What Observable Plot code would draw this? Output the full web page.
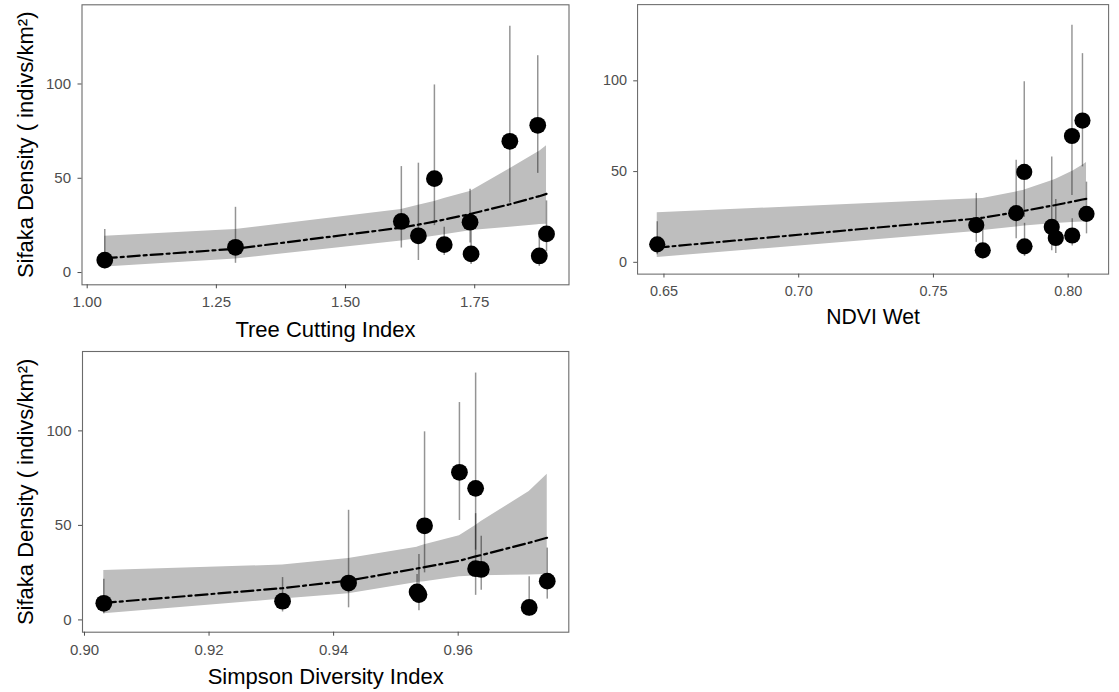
<!DOCTYPE html>
<html>
<head>
<meta charset="utf-8">
<script src="https://cdn.jsdelivr.net/npm/d3@7"></script>
<script src="https://cdn.jsdelivr.net/npm/@observablehq/plot@0.6"></script>
<style>
  html, body { margin: 0; padding: 0; background: #ffffff; }
  #fig { position: relative; width: 1119px; height: 692px; overflow: hidden; background: #ffffff; }
  #fig > div { position: absolute; }
  #fig svg { overflow: visible; }
</style>
</head>
<body>
<div id="fig">
  <div id="p1" style="left:0px; top:0px;"></div>
  <div id="p2" style="left:580px; top:0px;"></div>
  <div id="p3" style="left:0px; top:345px;"></div>
</div>
<script>
// Survey sites: sifaka density estimate with 95% interval
const density = [6.6, 8.8, 9.9, 13.4, 14.8, 19.5, 20.5, 26.7, 27.1, 49.8, 69.6, 78.1];
const densityLower = [2.0, 3.2, 4.2, 4.9, 9.0, 6.4, 11.0, 15.7, 13.0, 24.9, 36.9, 52.6];
const densityUpper = [22.8, 21.5, 22.4, 34.6, 24.0, 58.0, 38.0, 44.2, 56.2, 99.5, 130.6, 115.0];

// Habitat covariates per site
const treeCutting = [1.034, 1.875, 1.743, 1.287, 1.691, 1.641, 1.889, 1.741, 1.608, 1.672, 1.818, 1.872];
const ndviWet = [0.7683, 0.7838, 0.6475, 0.7954, 0.8015, 0.7939, 0.7659, 0.8068, 0.7807, 0.7837, 0.8014, 0.8053];
const simpson = [0.9714, 0.9031, 0.9318, 0.9537, 0.9534, 0.9424, 0.9743, 0.9637, 0.9628, 0.9546, 0.9628, 0.9602];

// Model predictions at each site (fit and 95% band), one set per covariate
const treeFit = [7.6, 40.5, 31.2, 12.6, 28.1, 25.4, 41.7, 31.0, 23.8, 27.0, 36.2, 40.3];
const treeLo  = [2.9, 25.5, 22.3, 7.2, 20.1, 18.1, 25.6, 22.2, 16.7, 19.3, 24.0, 25.4];
const treeHi  = [19.3, 64.2, 43.3, 22.8, 39.3, 35.7, 67.3, 43.0, 33.5, 37.7, 55.0, 63.8];

const ndviFit = [24.6, 28.4, 8.1, 31.6, 33.4, 31.2, 24.1, 35.0, 27.6, 28.4, 33.4, 34.6];
const ndviLo  = [17.5, 20.0, 2.7, 21.4, 21.9, 21.2, 17.0, 22.3, 19.5, 20.0, 21.9, 22.2];
const ndviHi  = [35.2, 39.8, 27.3, 45.8, 50.1, 45.0, 35.0, 55.0, 38.8, 39.7, 50.0, 53.5];

const simpFit = [40.8, 9.0, 16.8, 27.4, 27.2, 20.8, 43.5, 34.3, 33.6, 27.9, 33.6, 31.3];
const simpLo  = [23.8, 3.2, 11.0, 19.9, 19.8, 13.8, 24.0, 23.3, 23.2, 20.2, 23.2, 22.8];
const simpHi  = [68.0, 26.2, 29.0, 38.8, 38.5, 32.5, 77.0, 52.0, 50.0, 39.8, 50.0, 44.5];

// Axis ticks
const yTicks = [0, 50, 100];
const treeTicks = [1.00, 1.25, 1.50, 1.75];
const ndviTicks = [0.65, 0.70, 0.75, 0.80];
const simpTicks = [0.90, 0.92, 0.94, 0.96];

const yTitle = "Sifaka Density ( indivs/km²)";
const FONT = "'Liberation Sans', Arial, Helvetica, sans-serif";

function panel({xs, fit, lo, hi, domain, ticks, title, yLabel, width, height, margin}) {
  const sites = density.map((d, i) => ({
    x: xs[i], y: d, lower: densityLower[i], upper: densityUpper[i]
  }));
  const curve = xs.map((x, i) => ({x, fit: fit[i], lo: lo[i], hi: hi[i]}))
    .sort((a, b) => a.x - b.x);

  const marks = [
    Plot.areaY(curve, {x: "x", y1: "lo", y2: "hi", fill: "#bebebe"}),
    Plot.ruleX(sites, {x: "x", y1: "lower", y2: "upper", stroke: "#000", strokeOpacity: 0.42, strokeWidth: 1.5}),
    Plot.lineY(curve, {x: "x", y: "fit", stroke: "#000", strokeWidth: 2.2, strokeDasharray: "12,4,3,4"}),
    Plot.dot(sites, {x: "x", y: "y", r: 8.4, fill: "#000", stroke: null}),
    Plot.frame({stroke: "#6b6b6b", strokeWidth: 1.1}),
    Plot.axisX({ticks, tickFormat: d3.format(".2f"), tickSize: 4, tickPadding: 8,
      fontSize: 15, color: "#4d4d4d", label: null}),
    Plot.axisY({ticks: yTicks, tickSize: 4, tickPadding: 7, fontSize: 15,
      color: "#4d4d4d", label: null}),
    Plot.text([title], {frameAnchor: "bottom", dy: 45, lineAnchor: "middle",
      fontSize: 22, fill: "#000"})
  ];
  if (yLabel) {
    marks.push(Plot.text([yLabel], {frameAnchor: "left", rotate: -90, dx: -(margin.left - 25),
      lineAnchor: "middle", textAnchor: "middle", fontSize: 22, fill: "#000"}));
  }
  return Plot.plot({
    width, height,
    marginLeft: margin.left, marginRight: margin.right,
    marginTop: margin.top, marginBottom: margin.bottom,
    style: {fontFamily: FONT, background: "transparent", overflow: "visible"},
    x: {domain},
    y: {domain: [-6.5, 142]},
    marks
  });
}

document.getElementById("p1").append(panel({
  xs: treeCutting, fit: treeFit, lo: treeLo, hi: treeHi,
  domain: [0.98994, 1.9325], ticks: treeTicks, title: "Tree Cutting Index", yLabel: yTitle,
  width: 580, height: 345, margin: {left: 81.5, right: 11.5, top: 4.3, bottom: 60.7}
}));

document.getElementById("p2").append(panel({
  xs: ndviWet, fit: ndviFit, lo: ndviLo, hi: ndviHi,
  domain: [0.6402, 0.8150], ticks: ndviTicks, title: "NDVI Wet", yLabel: null,
  width: 560, height: 345, margin: {left: 59.3, right: 11.3, top: 4.3, bottom: 60.7}
}));

document.getElementById("p3").append(panel({
  xs: simpson, fit: simpFit, lo: simpLo, hi: simpHi,
  domain: [0.89968, 0.97776], ticks: simpTicks, title: "Simpson Diversity Index", yLabel: yTitle,
  width: 580, height: 347, margin: {left: 82, right: 11.7, top: 6, bottom: 60.3}
}));
</script>
</body>
</html>
